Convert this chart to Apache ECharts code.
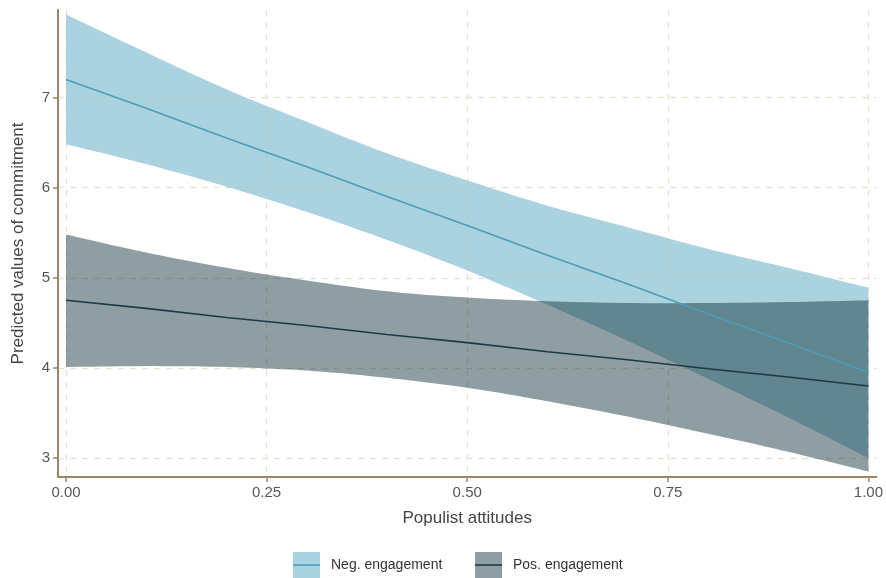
<!DOCTYPE html>
<html>
<head>
<meta charset="utf-8">
<script src="https://cdn.jsdelivr.net/npm/echarts@6/dist/echarts.min.js"></script>
<style>html,body{margin:0;padding:0;background:#fff}#c{width:886px;height:578px}</style>
</head>
<body>
<div id="c"></div>
<script>
const xVals = [0, 0.1, 0.2, 0.3, 0.4, 0.5, 0.6, 0.7, 0.8, 0.9, 1.0];
const negFit   = [7.20, 6.88, 6.55, 6.23, 5.90, 5.58, 5.25, 4.93, 4.60, 4.28, 3.95];
const negUpper = [7.92, 7.50, 7.09, 6.73, 6.38, 6.08, 5.80, 5.56, 5.32, 5.11, 4.89];
const negLower = [6.48, 6.26, 6.01, 5.73, 5.42, 5.08, 4.70, 4.30, 3.88, 3.45, 3.00];
const posFit   = [4.75, 4.66, 4.56, 4.47, 4.37, 4.28, 4.18, 4.09, 3.99, 3.90, 3.80];
const posUpper = [5.48, 5.28, 5.11, 4.97, 4.85, 4.78, 4.74, 4.72, 4.72, 4.73, 4.75];
const posLower = [4.01, 4.02, 4.01, 3.97, 3.89, 3.78, 3.63, 3.46, 3.27, 3.07, 2.85];
const xTicks = [0, 0.25, 0.5, 0.75, 1.0];
const yTicks = [3, 4, 5, 6, 7];
const seriesNames = ['Neg. engagement', 'Pos. engagement'];

const pairs = (ys) => xVals.map((x, i) => [x, ys[i]]);
const bandData = (lo, hi) => xVals.map((x, i) => [x, lo[i], hi[i]]);

const axisCol = '#9c8467';
const gridCol = '#eadfcf';
const negBandCol = 'rgba(150,200,215,0.8)';
const posBandCol = 'rgba(7,40,49,0.45)';
const negLineCol = '#4d9db8';
const posLineCol = '#1c3a45';

// render-time smoothing of pixel points (Catmull-Rom as cubic Bezier)
function smoothPts(p) {
  const out = [p[0]];
  const n = p.length;
  for (let i = 0; i < n - 1; i++) {
    const p0 = p[Math.max(i - 1, 0)], p1 = p[i], p2 = p[i + 1], p3 = p[Math.min(i + 2, n - 1)];
    const c1 = [p1[0] + (p2[0] - p0[0]) / 6, p1[1] + (p2[1] - p0[1]) / 6];
    const c2 = [p2[0] - (p3[0] - p1[0]) / 6, p2[1] - (p3[1] - p1[1]) / 6];
    for (let k = 1; k <= 10; k++) {
      const t = k / 10, u = 1 - t;
      out.push([
        u*u*u*p1[0] + 3*u*u*t*c1[0] + 3*u*t*t*c2[0] + t*t*t*p2[0],
        u*u*u*p1[1] + 3*u*u*t*c1[1] + 3*u*t*t*c2[1] + t*t*t*p2[1]
      ]);
    }
  }
  return out;
}

function bandRenderer(lo, hi, fill) {
  return function (params, api) {
    if (params.dataIndex !== 0) return null;
    const up = [], dn = [];
    for (let i = 0; i < xVals.length; i++) up.push(api.coord([xVals[i], hi[i]]));
    for (let i = xVals.length - 1; i >= 0; i--) dn.push(api.coord([xVals[i], lo[i]]));
    const pts = smoothPts(up).concat(smoothPts(dn));
    return {type: 'polygon', shape: {points: pts}, style: {fill: fill, stroke: null}};
  };
}

const chart = echarts.init(document.getElementById('c'), null, {renderer: 'canvas'});
chart.setOption({
  animation: false,
  backgroundColor: '#fff',
  grid: {left: 58, right: 9, top: 10, bottom: 101, containLabel: false},
  xAxis: {
    type: 'value', min: -0.01, max: 1.01,
    name: 'Populist attitudes', nameLocation: 'middle', nameGap: 33,
    nameTextStyle: {fontFamily: 'Liberation Sans', fontSize: 17, color: '#444'},
    axisLine: {show: true, onZero: false, lineStyle: {color: axisCol, width: 2}},
    axisTick: {show: true, length: 5, customValues: xTicks, lineStyle: {color: axisCol, width: 1.5}},
    axisLabel: {customValues: xTicks, fontFamily: 'Liberation Sans', fontSize: 15, color: '#555', margin: 8,
      formatter: v => v.toFixed(2)},
    splitLine: {show: true, lineStyle: {color: gridCol, type: [6, 6], width: 1.2}}
  },
  yAxis: {
    type: 'value', min: 2.79, max: 7.97,
    name: 'Predicted values of commitment', nameLocation: 'middle', nameGap: 31,
    nameTextStyle: {fontFamily: 'Liberation Sans', fontSize: 17, color: '#444'},
    axisLine: {show: true, onZero: false, lineStyle: {color: axisCol, width: 2}},
    axisTick: {show: true, length: 5, customValues: yTicks, lineStyle: {color: axisCol, width: 1.5}},
    axisLabel: {customValues: yTicks, fontFamily: 'Liberation Sans', fontSize: 15, color: '#555', margin: 8},
    splitLine: {show: true, lineStyle: {color: gridCol, type: [6, 6], width: 1.2}}
  },
  series: [
    {type: 'custom', name: seriesNames[0] + ' CI', data: bandData(negLower, negUpper),
     encode: {x: 0, y: [1, 2]}, renderItem: bandRenderer(negLower, negUpper, negBandCol), silent: true, clip: true},
    {type: 'line', name: seriesNames[0], data: pairs(negFit), symbol: 'none',
     lineStyle: {color: negLineCol, width: 1.6}},
    {type: 'custom', name: seriesNames[1] + ' CI', data: bandData(posLower, posUpper),
     encode: {x: 0, y: [1, 2]}, renderItem: bandRenderer(posLower, posUpper, posBandCol), silent: true, clip: true},
    {type: 'line', name: seriesNames[1], data: pairs(posFit), symbol: 'none',
     lineStyle: {color: posLineCol, width: 1.6}}
  ],
  graphic: [
    {type: 'rect', shape: {x: 293, y: 552, width: 27, height: 26}, style: {fill: 'rgb(171,211,223)'}},
    {type: 'line', shape: {x1: 293, y1: 565, x2: 320, y2: 565}, style: {stroke: negLineCol, lineWidth: 1.6}},
    {type: 'text', x: 331, y: 565, style: {text: seriesNames[0], font: '14px "Liberation Sans"', fill: '#333', verticalAlign: 'middle'}},
    {type: 'rect', shape: {x: 475, y: 552, width: 27, height: 26}, style: {fill: 'rgb(143,158,162)'}},
    {type: 'line', shape: {x1: 475, y1: 565, x2: 502, y2: 565}, style: {stroke: posLineCol, lineWidth: 1.6}},
    {type: 'text', x: 513, y: 565, style: {text: seriesNames[1], font: '14px "Liberation Sans"', fill: '#333', verticalAlign: 'middle'}}
  ]
});
</script>
</body>
</html>
